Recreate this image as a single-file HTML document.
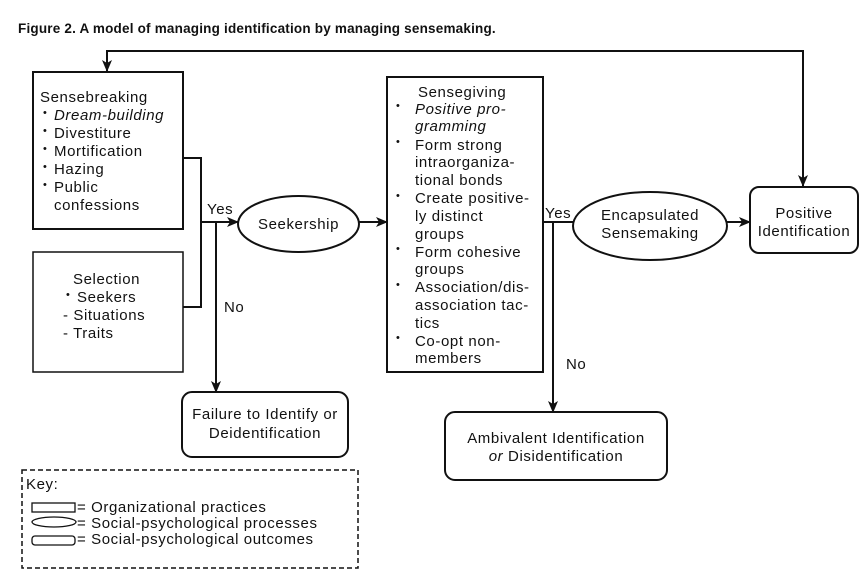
<!DOCTYPE html>
<html><head><style>
body{margin:0;background:#fff}
svg{display:block}
text{font-family:"Liberation Sans",Arial,sans-serif;font-size:15px;letter-spacing:0.6px;fill:#111}
.b{font-size:11px}
</style></head><body>
<svg width="865" height="582" viewBox="0 0 865 582">
<defs><marker id="a" markerWidth="12" markerHeight="10" refX="11" refY="5" orient="auto" markerUnits="userSpaceOnUse"><path d="M0,0 L12,5 L0,10 L3,5 z" fill="#111"/></marker></defs>
<g stroke="#111" stroke-width="2" fill="none">
<text x="18" y="33" style="font-weight:bold;font-size:13.5px;letter-spacing:0.2px" stroke="none">Figure 2.  A model of managing identification by managing sensemaking.</text>
<polyline points="803,186 803,51 107,51 107,71" marker-end="url(#a)"/>
<line x1="803" y1="60" x2="803" y2="186" marker-end="url(#a)"/>
<rect x="33" y="72" width="150" height="157"/>
<rect x="33" y="252" width="150" height="120" stroke-width="1.5"/>
<rect x="387" y="77" width="156" height="295"/>
<polyline points="183,158 201,158 201,307 183,307"/>
<line x1="201" y1="222" x2="238" y2="222" marker-end="url(#a)"/>
<line x1="216" y1="222" x2="216" y2="392" marker-end="url(#a)"/>
<ellipse cx="298.5" cy="224" rx="60.5" ry="28"/>
<line x1="359" y1="222" x2="387" y2="222" marker-end="url(#a)"/>
<line x1="543" y1="222" x2="573" y2="222"/>
<line x1="553" y1="222" x2="553" y2="412" marker-end="url(#a)"/>
<ellipse cx="650" cy="226" rx="77" ry="34"/>
<line x1="727" y1="222" x2="750" y2="222" marker-end="url(#a)"/>
<rect x="750" y="187" width="108" height="66" rx="9"/>
<rect x="182" y="392" width="166" height="65" rx="10"/>
<rect x="445" y="412" width="222" height="68" rx="10"/>
<rect x="22" y="470" width="336" height="98" stroke-dasharray="5,3" stroke-width="1.5"/>
<g stroke-width="1.3">
<rect x="32" y="503" width="43" height="9"/>
<ellipse cx="54" cy="522" rx="22" ry="5"/>
<rect x="32" y="536" width="43" height="9" rx="3"/>
</g>
</g>
<text x="40" y="102">Sensebreaking</text>
<g>
<text class="b" x="43" y="116">•</text><text x="54" y="120" style="font-style:italic">Dream-building</text>
<text class="b" x="43" y="134">•</text><text x="54" y="138">Divestiture</text>
<text class="b" x="43" y="152">•</text><text x="54" y="156">Mortification</text>
<text class="b" x="43" y="170">•</text><text x="54" y="174">Hazing</text>
<text class="b" x="43" y="188">•</text><text x="54" y="192">Public</text>
<text x="54" y="210">confessions</text>
</g>
<text x="73" y="284">Selection</text>
<text class="b" x="66" y="298">•</text><text x="77" y="302">Seekers</text>
<text x="63" y="320">- Situations</text>
<text x="63" y="338">- Traits</text>
<text x="207" y="214">Yes</text>
<text x="224" y="312">No</text>
<text x="298.5" y="229" text-anchor="middle">Seekership</text>
<text x="418" y="97">Sensegiving</text>
<g>
<text class="b" x="396" y="109">•</text><text x="415" y="114" style="font-style:italic">Positive pro-</text>
<text x="415" y="131" style="font-style:italic">gramming</text>
<text class="b" x="396" y="145">•</text><text x="415" y="150">Form strong</text>
<text x="415" y="167">intraorganiza-</text>
<text x="415" y="185">tional bonds</text>
<text class="b" x="396" y="199">•</text><text x="415" y="203">Create positive-</text>
<text x="415" y="221">ly distinct</text>
<text x="415" y="239">groups</text>
<text class="b" x="396" y="252">•</text><text x="415" y="257">Form cohesive</text>
<text x="415" y="274">groups</text>
<text class="b" x="396" y="288">•</text><text x="415" y="292">Association/dis-</text>
<text x="415" y="310">association tac-</text>
<text x="415" y="328">tics</text>
<text class="b" x="396" y="341">•</text><text x="415" y="346">Co-opt non-</text>
<text x="415" y="363">members</text>
</g>
<text x="545" y="218">Yes</text>
<text x="566" y="369">No</text>
<text x="650" y="220" text-anchor="middle">Encapsulated</text>
<text x="650" y="238" text-anchor="middle">Sensemaking</text>
<text x="804" y="218" text-anchor="middle">Positive</text>
<text x="804" y="236" text-anchor="middle">Identification</text>
<text x="265" y="419" text-anchor="middle">Failure to Identify or</text>
<text x="265" y="438" text-anchor="middle">Deidentification</text>
<text x="556" y="443" text-anchor="middle">Ambivalent Identification</text>
<text x="556" y="461" text-anchor="middle"><tspan style="font-style:italic">or</tspan> Disidentification</text>
<text x="26" y="489">Key:</text>
<text x="77" y="512">= Organizational practices</text>
<text x="77" y="528">= Social-psychological processes</text>
<text x="77" y="544">= Social-psychological outcomes</text>
</svg>
</body></html>
